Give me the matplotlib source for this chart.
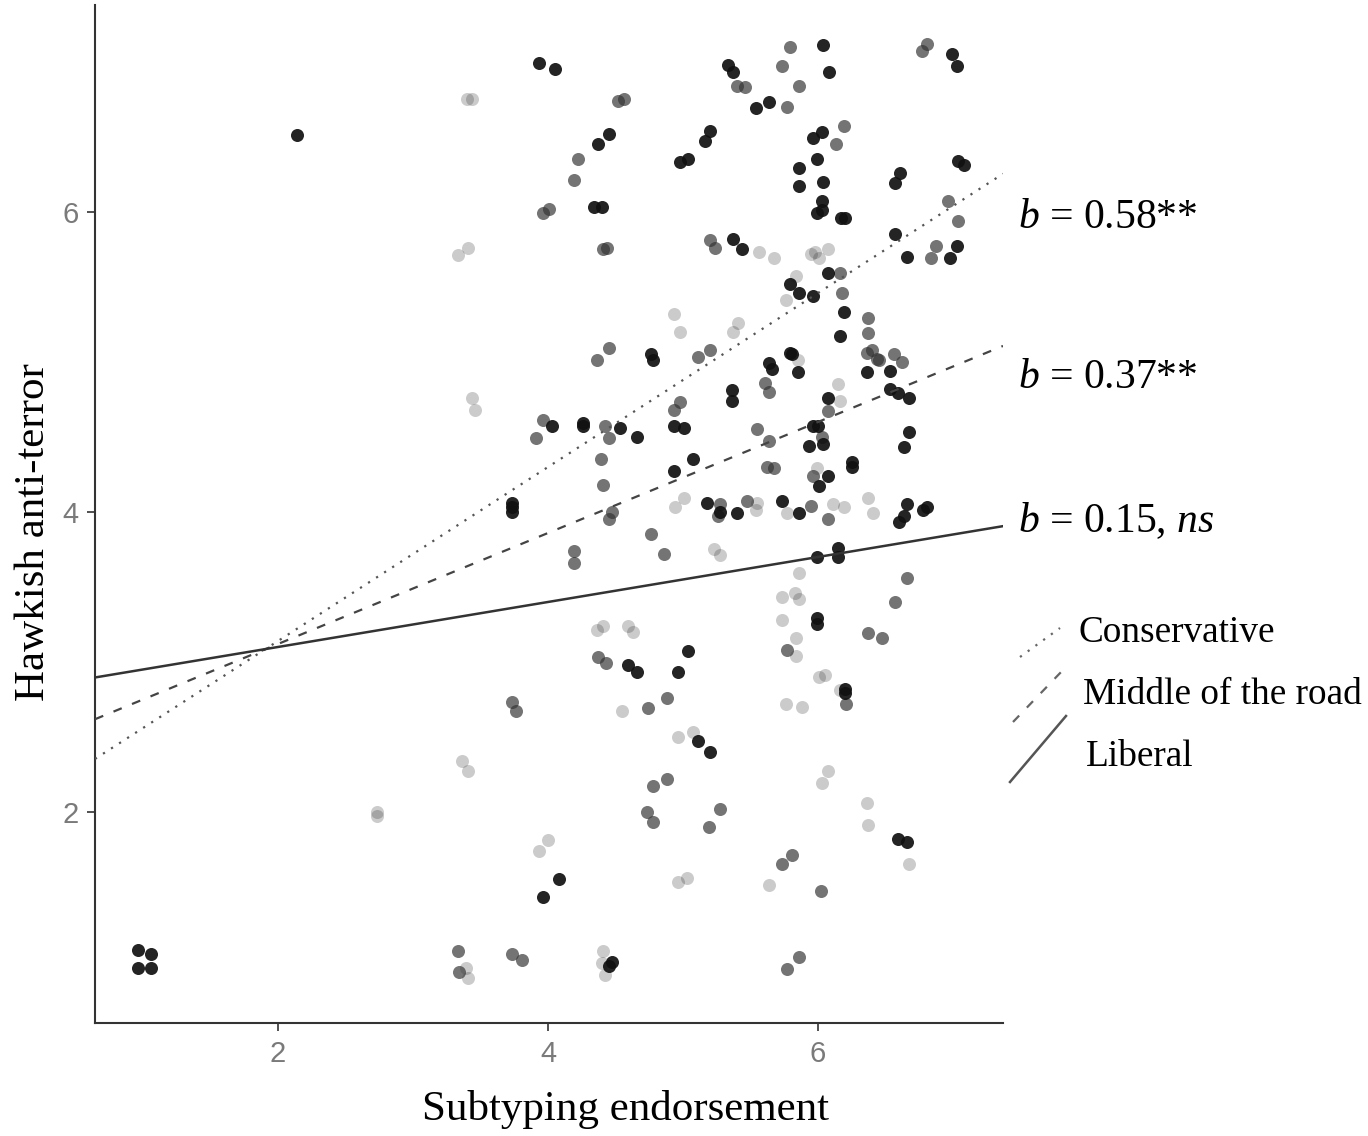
import numpy as np
import matplotlib
matplotlib.use("Agg")
import matplotlib.pyplot as plt
from matplotlib.lines import Line2D

plt.rcParams['font.family'] = ['Liberation Serif', 'DejaVu Serif']
plt.rcParams['mathtext.fontset'] = 'custom'
plt.rcParams['mathtext.rm'] = 'Liberation Serif'
plt.rcParams['mathtext.it'] = 'Liberation Serif:italic'

# points, grouped by how dark they print
dark_x = [2.14, 3.93, 4.05, 4.45, 4.37, 4.98, 5.04, 4.34, 4.40, 6.04, 5.33, 5.37, 6.08,
          5.54, 5.64, 6.99, 7.03, 5.20, 5.16, 5.96, 6.03, 5.99, 5.86, 6.04, 5.86, 6.03,
          5.99, 6.03, 6.17, 6.20, 6.61, 6.57, 7.04, 7.08, 6.57, 7.03, 6.66, 6.98, 5.37,
          5.44, 6.07, 5.79, 5.86, 5.96, 6.19, 6.16, 4.76, 4.78, 4.03, 4.26, 4.26, 4.53,
          4.66, 4.93, 5.01, 4.93, 5.07, 3.73, 3.73, 3.73, 5.04, 4.59, 4.66, 4.96, 5.64,
          5.66, 5.79, 5.81, 5.85, 6.36, 6.53, 6.53, 6.59, 6.67, 5.36, 5.36, 6.07, 5.96,
          6.00, 5.93, 6.04, 6.67, 6.64, 6.07, 6.01, 6.25, 6.25, 5.18, 5.27, 5.40, 5.73,
          5.86, 6.66, 6.60, 6.64, 6.78, 6.81, 5.99, 6.15, 6.15, 5.99, 5.99, 5.11, 4.08,
          3.96, 4.45, 4.47, 6.20, 6.20, 5.20, 6.59, 6.66, 0.96, 1.06, 0.96, 1.06]
dark_y = [6.51, 6.99, 6.95, 6.52, 6.45, 6.33, 6.35, 6.03, 6.03, 7.11, 6.98, 6.93, 6.93,
          6.69, 6.73, 7.05, 6.97, 6.54, 6.47, 6.49, 6.53, 6.35, 6.29, 6.20, 6.17, 6.07,
          5.99, 6.01, 5.96, 5.96, 6.26, 6.19, 6.34, 6.31, 5.85, 5.77, 5.70, 5.69, 5.82,
          5.75, 5.59, 5.52, 5.46, 5.44, 5.33, 5.17, 5.05, 5.01, 4.57, 4.59, 4.57, 4.56,
          4.50, 4.57, 4.56, 4.27, 4.35, 4.06, 4.03, 4.00, 3.07, 2.98, 2.93, 2.93, 4.99,
          4.95, 5.06, 5.05, 4.93, 4.93, 4.94, 4.82, 4.79, 4.76, 4.81, 4.74, 4.76, 4.57,
          4.57, 4.44, 4.45, 4.53, 4.43, 4.24, 4.17, 4.33, 4.30, 4.06, 4.00, 3.99, 4.07,
          3.99, 4.05, 3.93, 3.97, 4.01, 4.03, 3.70, 3.76, 3.70, 3.29, 3.25, 2.47, 1.55,
          1.43, 0.97, 1.00, 2.82, 2.79, 2.40, 1.82, 1.80, 1.08, 1.05, 0.96, 0.96]

mid_x = [4.52, 4.56, 4.22, 4.19, 3.96, 4.01, 4.41, 4.44, 5.79, 5.73, 5.40, 5.46, 5.86,
         5.77, 6.81, 6.77, 6.19, 6.13, 6.96, 7.04, 6.87, 6.84, 5.20, 5.24, 6.16, 6.18,
         6.37, 6.37, 4.36, 4.45, 5.11, 3.96, 3.91, 4.42, 4.45, 4.93, 4.98, 4.39, 4.41,
         4.47, 4.45, 4.76, 4.86, 4.19, 4.19, 4.37, 4.43, 5.20, 6.36, 6.40, 6.44, 6.45,
         6.56, 6.62, 5.61, 5.64, 6.07, 5.55, 5.64, 6.03, 5.62, 5.67, 5.96, 5.27, 5.26,
         5.47, 5.95, 6.07, 6.66, 6.57, 6.37, 6.47, 5.77, 3.73, 3.76, 4.74, 4.88, 4.78,
         4.88, 4.73, 4.78, 3.33, 3.34, 3.73, 3.81, 6.21, 5.27, 5.19, 5.81, 5.73, 6.02,
         5.86, 5.77]
mid_y = [6.74, 6.75, 6.35, 6.21, 5.99, 6.02, 5.75, 5.76, 7.10, 6.97, 6.84, 6.83, 6.84,
         6.70, 7.12, 7.07, 6.57, 6.45, 6.07, 5.94, 5.77, 5.69, 5.81, 5.76, 5.59, 5.46,
         5.29, 5.19, 5.01, 5.09, 5.03, 4.61, 4.49, 4.57, 4.49, 4.68, 4.73, 4.35, 4.18,
         4.00, 3.95, 3.85, 3.72, 3.74, 3.66, 3.03, 2.99, 5.08, 5.06, 5.08, 5.02, 5.01,
         5.05, 5.00, 4.86, 4.80, 4.67, 4.55, 4.47, 4.50, 4.30, 4.29, 4.24, 4.05, 3.97,
         4.07, 4.04, 3.95, 3.56, 3.40, 3.19, 3.16, 3.08, 2.73, 2.67, 2.69, 2.76, 2.17,
         2.22, 2.00, 1.93, 1.07, 0.93, 1.05, 1.01, 2.72, 2.02, 1.90, 1.71, 1.65, 1.47,
         1.03, 0.95]

light_x = [3.40, 3.44, 3.33, 3.41, 4.93, 4.98, 5.56, 5.67, 5.95, 5.98, 6.01, 6.07, 5.84,
           5.76, 5.41, 5.37, 3.44, 3.46, 4.94, 5.01, 4.36, 4.41, 4.59, 4.63, 5.85, 6.15,
           6.16, 5.99, 5.55, 5.54, 5.77, 6.11, 6.19, 6.37, 6.41, 5.23, 5.27, 5.86, 5.73,
           5.83, 5.86, 5.73, 5.84, 5.84, 6.05, 6.01, 4.55, 4.96, 5.07, 3.36, 3.41, 2.73,
           2.73, 3.93, 4.00, 4.96, 5.03, 3.39, 3.41, 4.41, 4.40, 4.42, 6.16, 5.76, 5.88,
           6.07, 6.03, 6.36, 6.37, 6.67, 5.64]
light_y = [6.75, 6.75, 5.71, 5.76, 5.32, 5.20, 5.73, 5.69, 5.72, 5.73, 5.69, 5.75, 5.57,
           5.41, 5.26, 5.20, 4.76, 4.68, 4.03, 4.09, 3.21, 3.24, 3.24, 3.20, 5.01, 4.85,
           4.74, 4.29, 4.06, 4.01, 3.99, 4.05, 4.03, 4.09, 3.99, 3.75, 3.71, 3.59, 3.43,
           3.46, 3.42, 3.28, 3.16, 3.04, 2.91, 2.90, 2.67, 2.50, 2.53, 2.34, 2.27, 1.97,
           2.00, 1.74, 1.81, 1.53, 1.56, 0.96, 0.89, 1.07, 0.99, 0.91, 2.81, 2.72, 2.70,
           2.27, 2.19, 2.06, 1.91, 1.65, 1.51]

# simple slopes: intercept, slope
groups = ['Conservative', 'Middle of the road', 'Liberal']
intercepts = [1.98, 2.38, 2.80]
slopes = [0.58, 0.37, 0.15]
slope_labels = [r'$\mathit{b}$ = 0.58**', r'$\mathit{b}$ = 0.37**', r'$\mathit{b}$ = 0.15, $\mathit{ns}$']

xlim = (0.644, 7.37)
ylim = (0.593, 7.38)

fig = plt.figure(figsize=(13.68, 11.36), dpi=100)
ax = fig.add_axes([95 / 1368, 1 - 1023 / 1136, 908 / 1368, 1018 / 1136])

ax.scatter(light_x, light_y, s=88, color='#333333', alpha=0.25, linewidths=0, zorder=2)
ax.scatter(mid_x, mid_y, s=88, color='#333333', alpha=0.68, linewidths=0, zorder=2)
ax.scatter(dark_x, dark_y, s=88, color='#111111', alpha=0.92, linewidths=0, zorder=2)

styles = [dict(ls=(0, (1, 3.3)), lw=1.6, color='#555555'),
          dict(ls=(0, (4, 5)), lw=1.6, color='#444444'),
          dict(ls='-', lw=1.8, color='#333333')]
xs = np.array(xlim)
for a, b, st in zip(intercepts, slopes, styles):
    ax.plot(xs, a + b * xs, zorder=3, **st)

ax.set_xlim(xlim)
ax.set_ylim(ylim)
ax.set_xticks([2, 4, 6])
ax.set_yticks([2, 4, 6])
for side in ['top', 'right']:
    ax.spines[side].set_visible(False)
for side in ['left', 'bottom']:
    ax.spines[side].set_color('#333333')
    ax.spines[side].set_linewidth(1.5)
ax.tick_params(direction='out', length=6, width=1.2, color='#333333',
               labelcolor='#7a7a7a', labelsize=21, pad=6)
for lab in ax.get_xticklabels() + ax.get_yticklabels():
    lab.set_family(['Liberation Sans', 'DejaVu Sans'])

ax.set_xlabel('Subtyping endorsement', fontsize=31, va='center')
ax.xaxis.set_label_coords(0.584, -0.085)
ax.set_ylabel('Hawkish anti-terror', fontsize=31, va='center')
ax.yaxis.set_label_coords(-0.068, 0.482)

# slope annotations
for lab, ypix in zip(slope_labels, [218, 378, 521]):
    fig.text(1018 / 1368, 1 - ypix / 1136, lab, fontsize=30, va='center', ha='left')

# hand-drawn legend with slanted keys
keys = [((1020, 657), (1060, 628)), ((1013, 722), (1063, 670)), ((1010, 782), (1066, 716))]
key_styles = [dict(ls=(0, (1, 3.3)), lw=1.6, color='#666666'),
              dict(ls=(0, (4, 5)), lw=1.6, color='#666666'),
              dict(ls='-', lw=1.8, color='#555555')]
text_pos = [(1078, 633), (1083, 695), (1086, 757)]
for g, (p0, p1), st, (tx, ty) in zip(groups, keys, key_styles, text_pos):
    fig.add_artist(Line2D([p0[0] / 1368, p1[0] / 1368], [1 - p0[1] / 1136, 1 - p1[1] / 1136],
                          transform=fig.transFigure, **st))
    fig.text(tx / 1368, 1 - ty / 1136, g, fontsize=26.8, va='center', ha='left')

fig.savefig('out.png', dpi=100)
